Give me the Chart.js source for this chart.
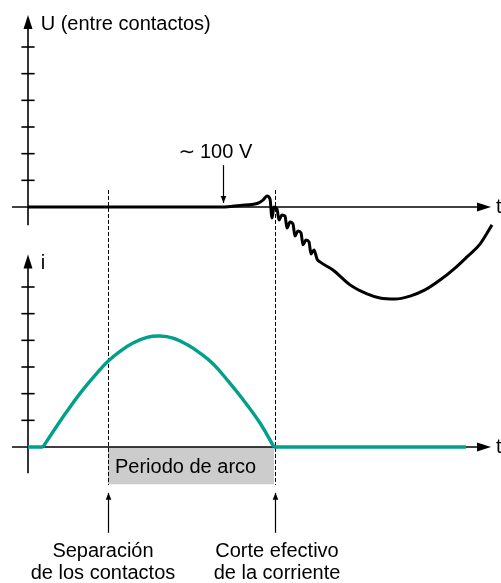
<!DOCTYPE html>
<html><head><meta charset="utf-8">
<script src="https://cdn.jsdelivr.net/npm/chart.js@4.4.1/dist/chart.umd.min.js"></script>
<style>html,body{margin:0;padding:0;background:#fff;overflow:hidden}canvas{display:block}</style>
</head><body>
<canvas id="c" width="501" height="583"></canvas>
<script>
// ---- data (time in arbitrary units, U and i in tick units) ----
const tU = [0, 19.5, 21.2, 22.9, 23.5, 23.9, 24.2, 24.4, 24.6, 24.9, 25.1, 25.4, 25.7, 25.9, 26.2, 26.5, 26.7, 27.0, 27.3, 27.5, 27.8, 28.1, 28.3, 28.6, 28.9, 29.2, 30.5, 32.2, 33.9, 35.2, 36.7, 38.2, 39.7, 41.2, 42.7, 43.9, 45.2, 46.4];
const uVals = [0, 0, 0.06, 0.13, 0.26, 0.41, 0.30, -0.41, 0, -0.07, -0.49, -0.30, -0.34, -0.79, -0.56, -0.64, -1.09, -0.90, -0.97, -1.42, -1.24, -1.31, -1.76, -1.61, -1.95, -2.06, -2.36, -2.92, -3.26, -3.41, -3.45, -3.34, -3.11, -2.74, -2.29, -1.87, -1.39, -0.67];
const tArc = [1.5, 2.5, 3.9, 5.5, 7.2, 8.0, 9.2, 10.5, 11.9, 13.2, 14.5, 15.9, 17.2, 18.5, 20.0, 21.5, 23.2, 24.6];
const iArc = [0, 0.57, 1.34, 2.15, 2.9, 3.22, 3.59, 3.9, 4.11, 4.16, 4.08, 3.84, 3.52, 3.12, 2.48, 1.78, 0.9, 0];
const tFlat = [0, 1.5, 13, 24.6, 43.8];
const iFlat = [0, 0, null, 0, 0];
const uTicks = [1, 2, 3, 4, 5, 6];
const iTicks = [1, 2, 3, 4, 5, 6];
const separationT = 8.0;
const cutT = 24.7;
const voltMarkT = 19.45;
const labelU = "U (entre contactos)";
const labelI = "i";
const labelT = "t";
const labelArc = "Periodo de arco";
const labelVolt = "100 V";
const labelSep = ["Separación", "de los contactos"];
const labelCut = ["Corte efectivo", "de la corriente"];

const TEAL = '#00a08a';
const FONT = '20px "Liberation Sans", Arial, Helvetica, sans-serif';

const pts = (xs, ys) => xs.map((x, k) => ({x, y: ys[k]}));

const diagram = {
  id: 'diagram',
  beforeDatasetsDraw(chart) {
    const c = chart.ctx, s = chart.scales;
    const X = v => s.x.getPixelForValue(v), YU = v => s.yU.getPixelForValue(v), YI = v => s.yI.getPixelForValue(v);
    c.save();
    c.fillStyle = '#cccccc';
    c.fillRect(X(separationT), YI(0), X(cutT - 0.1) - X(separationT), YI(-1.4) - YI(0));
    c.strokeStyle = '#000'; c.lineWidth = 1; c.setLineDash([4, 2]);
    [separationT, cutT].forEach(t => {
      c.beginPath(); c.moveTo(Math.round(X(t)) + 0.5, YU(0.64)); c.lineTo(Math.round(X(t)) + 0.5, YI(-1.42)); c.stroke();
    });
    c.setLineDash([]);
    c.lineWidth = 1.6; c.fillStyle = '#000';
    const arrowH = (x, y) => { c.beginPath(); c.moveTo(x, y); c.lineTo(x - 14, y - 4.5); c.lineTo(x - 14, y + 4.5); c.closePath(); c.fill(); };
    const arrowV = (x, y) => { c.beginPath(); c.moveTo(x, y); c.lineTo(x - 4.5, y + 14); c.lineTo(x + 4.5, y + 14); c.closePath(); c.fill(); };
    [['yU', -0.68, 7.2, uTicks], ['yI', -0.98, 7.22, iTicks]].forEach(([id, lo, hi, ticks]) => {
      const Y = v => s[id].getPixelForValue(v);
      const x0 = X(0);
      c.beginPath(); c.moveTo(x0, Y(lo)); c.lineTo(x0, Y(hi) + 10); c.stroke();
      arrowV(x0, Y(hi));
      c.beginPath(); c.moveTo(X(-1.6), Y(0)); c.lineTo(X(46.3) - 10, Y(0)); c.stroke();
      arrowH(X(46.3), Y(0));
      ticks.forEach(v => { c.beginPath(); c.moveTo(X(-0.66), Y(v)); c.lineTo(X(0.66), Y(v)); c.stroke(); });
    });
    c.restore();
  },
  afterDatasetsDraw(chart) {
    const c = chart.ctx, s = chart.scales;
    const X = v => s.x.getPixelForValue(v), YU = v => s.yU.getPixelForValue(v), YI = v => s.yI.getPixelForValue(v);
    c.save();
    c.fillStyle = '#000'; c.strokeStyle = '#000';
    c.font = FONT; c.textBaseline = 'alphabetic'; c.textAlign = 'left';
    c.fillText(labelU, X(1.27), YU(6.62));
    c.fillText(labelI, X(1.27), YI(6.67));
    c.fillText(labelT, X(46.8), YU(-0.24));
    c.fillText(labelT, X(46.8), YI(-0.22));
    c.fillText(labelArc, X(8.7), YI(-0.975));
    c.fillText(labelVolt, X(17.2), YU(1.84));
    c.textAlign = 'center';
    c.font = '20px "DejaVu Sans", sans-serif';
    c.fillText('\u223C', X(15.9), YU(1.84));
    c.font = FONT;
    c.fillText(labelSep[0], X(7.5), YI(-4.12));
    c.fillText(labelSep[1], X(7.5), YI(-4.95));
    c.fillText(labelCut[0], X(24.9), YI(-4.12));
    c.fillText(labelCut[1], X(24.9), YI(-4.95));
    c.lineWidth = 1.2;
    const ptr = (x, yTop, yBot, up) => {
      x = Math.round(x) + 0.5;
      c.beginPath(); c.moveTo(x, yTop); c.lineTo(x, yBot); c.stroke();
      const tip = up ? yTop : yBot, d = up ? 7 : -7;
      c.beginPath(); c.moveTo(x, tip); c.lineTo(x - 2.8, tip + d); c.lineTo(x + 2.8, tip + d); c.closePath(); c.fill();
    };
    ptr(X(separationT), YI(-1.72), YI(-3.22), true);
    ptr(X(cutT), YI(-1.72), YI(-3.22), true);
    ptr(X(voltMarkT), YU(1.57), YU(0.15), false);
    c.restore();
  }
};

new Chart(document.getElementById('c'), {
  type: 'line',
  data: {
    datasets: [
      { data: pts(tU, uVals), yAxisID: 'yU', borderColor: '#000', borderWidth: 3, pointRadius: 0, cubicInterpolationMode: 'monotone', fill: false },
      { data: pts(tArc, iArc), yAxisID: 'yI', borderColor: TEAL, borderWidth: 3.4, pointRadius: 0, tension: 0.4, fill: false },
      { data: pts(tFlat, iFlat), yAxisID: 'yI', borderColor: TEAL, borderWidth: 3.4, pointRadius: 0, tension: 0, spanGaps: false, fill: false }
    ]
  },
  options: {
    responsive: false, devicePixelRatio: 1, animation: false,
    layout: { padding: 0 },
    plugins: { legend: { display: false }, tooltip: { enabled: false } },
    scales: {
      x: { type: 'linear', min: -2.8, max: 47.3, display: false },
      yU: { type: 'linear', min: -14.1, max: 7.7625, display: false },
      yI: { type: 'linear', min: -5.1, max: 16.7625, display: false }
    }
  },
  plugins: [diagram]
});
</script>
</body></html>
